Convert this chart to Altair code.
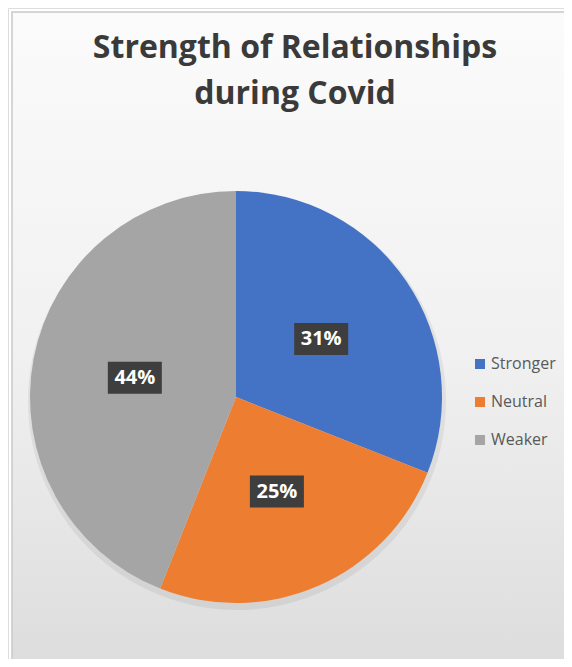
import altair as alt
import pandas as pd

# ---- data ----
categories = ["Stronger", "Neutral", "Weaker"]
shares = [31, 25, 44]
labels = ["31%", "25%", "44%"]
slice_order = [0, 1, 2]
colors = ["#4472C4", "#ED7D31", "#A5A5A5"]
title_lines = ["Strength of Relationships", "during Covid"]

df = pd.DataFrame({"category": categories, "share": shares,
                   "label": labels, "order": slice_order})
title_df = pd.DataFrame({"line": title_lines, "i": [0, 1]})
one = pd.DataFrame({"k": [0]})

W, H = 556, 651
CX, CY, R = 228, 389, 206
LR = 103  # label radius

bg_fill = alt.LinearGradient(
    gradient="linear", x1=0, x2=0, y1=0, y2=1,
    stops=[alt.GradientStop(color="#fbfbfb", offset=0),
           alt.GradientStop(color="#f1f1f1", offset=0.5),
           alt.GradientStop(color="#dcdcdc", offset=1)])

background = alt.Chart(one).mark_rect(
    fill=bg_fill, stroke="#c9c9c9", strokeWidth=1.5
).encode(x=alt.value(4), x2=alt.value(W + 20), y=alt.value(4), y2=alt.value(H + 20))

shadow = alt.Chart(one).mark_arc(
    radius=R + 3, theta=0, theta2=6.2832, color="#000000", opacity=0.06
).encode(x=alt.value(CX + 1), y=alt.value(CY + 4))

pie = alt.Chart(df).mark_arc(radius=R).encode(
    theta=alt.Theta("share:Q", stack=True),
    order=alt.Order("order:Q"),
    color=alt.Color(
        "category:N",
        scale=alt.Scale(domain=categories, range=colors),
        legend=alt.Legend(
            title=None, orient="none", legendX=464, legendY=348,
            symbolType="square", symbolSize=100, symbolStrokeWidth=0,
            labelFont="Open Sans", labelFontSize=16, labelColor="#595959",
            labelOffset=3, rowPadding=22, padding=0),
    ),
    x=alt.value(CX), y=alt.value(CY),
)

lab = alt.Chart(df).transform_joinaggregate(
    total="sum(share)"
).transform_window(
    cum="sum(share)", sort=[alt.SortField("order")], frame=[None, 0]
).transform_calculate(
    ang="(datum.cum - datum.share / 2) / datum.total * 2 * PI",
    lx=f"{CX} + {LR} * sin(datum.ang)",
    ly=f"{CY} - {LR} * cos(datum.ang)",
).transform_calculate(
    bx1="datum.lx - 27", bx2="datum.lx + 27",
    by1="datum.ly - 16", by2="datum.ly + 16",
)

boxes = lab.mark_rect(color="#3e3e3e").encode(
    x=alt.X("bx1:Q", scale=None, axis=None), x2="bx2:Q",
    y=alt.Y("by1:Q", scale=None, axis=None), y2="by2:Q",
)

texts = lab.mark_text(
    font="Open Sans", fontWeight="bold", fontSize=20, color="white",
    baseline="middle", align="center"
).encode(
    x=alt.X("lx:Q", scale=None, axis=None),
    y=alt.Y("ly:Q", scale=None, axis=None),
    text="label:N",
)

title = alt.Chart(title_df).transform_calculate(
    ty="50 + datum.i * 46"
).mark_text(
    font="Open Sans", fontWeight="bold", fontSize=32, color="#3a3a3a",
    baseline="alphabetic", align="center"
).encode(
    x=alt.value(287),
    y=alt.Y("ty:Q", scale=None, axis=None),
    text="line:N",
)

chart = alt.layer(background, shadow, pie, boxes, texts, title).properties(
    width=W, height=H, padding=0, autosize="none"
).configure_view(stroke=None).configure(background="white")

chart.save("out.html", embed_options={"renderer": "svg", "actions": False})
